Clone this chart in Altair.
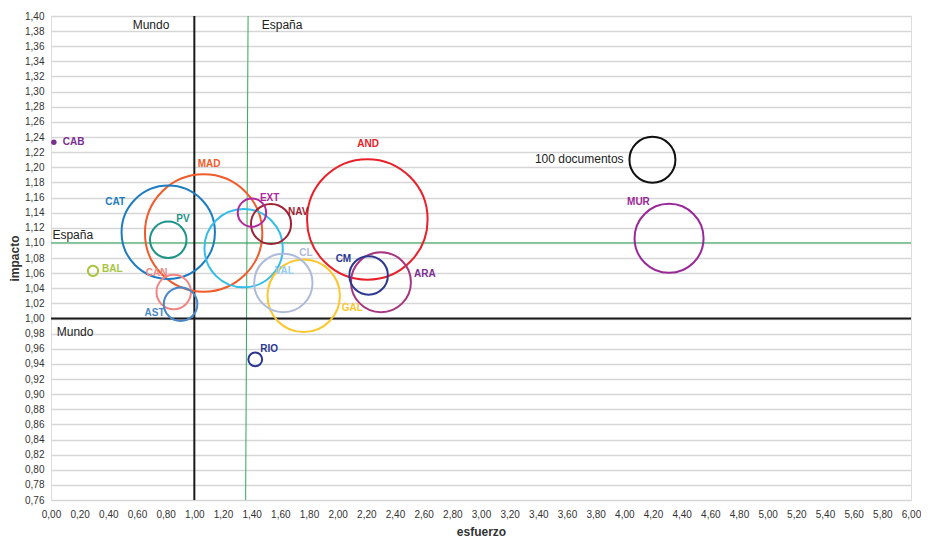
import altair as alt
import pandas as pd

# ---- data ----
regiones = ["AND", "MAD", "CAT", "VAL", "GAL", "ARA", "CL", "MUR", "NAV", "CM",
            "PV", "CAN", "AST", "EXT", "RIO", "BAL", "CAB"]
esfuerzo = [2.207, 1.065, 0.818, 1.344, 1.763, 2.302, 1.621, 4.312, 1.535, 2.216,
            0.818, 0.856, 0.904, 1.402, 1.425, 0.293, 0.020]
impacto = [1.131, 1.113, 1.114, 1.093, 1.030, 1.048, 1.047, 1.106, 1.125, 1.057,
           1.104, 1.035, 1.019, 1.140, 0.946, 1.063, 1.233]
documentos = [687, 651, 412, 290, 248, 170, 161, 225, 76, 70,
              63, 56, 53, 38, 9, 5, 1]

# reference bubble ("100 documentos")
ref_label = "100 documentos"
ref_x = 4.196
ref_y = 1.210
ref_docs = 100

# reference lines
mundo_x, mundo_y = 1.00, 1.00
espana_y = 1.10
espana_x_line = [1.375, 1.358]      # slight slant, top -> bottom
espana_line_y = [1.40, 0.76]

# ---- styles ----
circle_colors = ["#e8202a", "#f15a29", "#1b7cc2", "#33bde8", "#fcc62d", "#a6367f",
                 "#aebadc", "#9a2898", "#9e2233", "#2b3791", "#1d9488", "#f28482",
                 "#4b88c8", "#b1289c", "#2b3791", "#a6c53c", "#7b2e8f"]
label_colors = ["#e8202a", "#f15a29", "#1b7cc2", "#93cdef", "#fcc62d", "#7b2e8f",
                "#aebadc", "#9a2898", "#9e2233", "#2b3791", "#1d9488", "#f28482",
                "#4b88c8", "#b1289c", "#2b3791", "#a6c53c", "#7b2e8f"]
# label offsets from bubble centre, in pixels (left edge of text, middle)
label_dx = [-10, -6, -63, 31, 38, 33, 16, -42, 17, -33, 8, -28, -36, 8, 5, 9, 9]
label_dy = [-75, -69, -30, 23, 12, -8, -30, -36, -12, -16, -21, -19, 9, -15, -10, -2, 0]

W, H = 860, 484
X0, X1 = 0.0, 6.0
Y0, Y1 = 0.76, 1.40
PX_X = W / (X1 - X0)
PX_Y = H / (Y1 - Y0)
FONT = "Liberation Sans"

df = pd.DataFrame({
    "region": regiones,
    "esfuerzo": esfuerzo,
    "impacto": impacto,
    "documentos": documentos,
    "color": circle_colors,
    "lcolor": label_colors,
})
df["lx"] = df["esfuerzo"] + pd.Series(label_dx) / PX_X
df["ly"] = df["impacto"] - pd.Series(label_dy) / PX_Y

ref_df = pd.DataFrame({"region": [ref_label], "esfuerzo": [ref_x], "impacto": [ref_y],
                       "documentos": [ref_docs], "color": ["#111111"]})
bubbles_df = pd.concat([df[["region", "esfuerzo", "impacto", "documentos", "color"]], ref_df])

xscale = alt.Scale(domain=[X0, X1], nice=False, zero=False)
yscale = alt.Scale(domain=[Y0, Y1], nice=False, zero=False)

xticks = [round(i * 0.2, 2) for i in range(31)]
yticks = [round(0.76 + i * 0.02, 2) for i in range(33)]

x_axis = alt.Axis(values=xticks, tickCount=200,
                  labelExpr="replace(format(datum.value, '.2f'), '.', ',')",
                  grid=False, ticks=False, domain=False, labelPadding=9,
                  labelFontSize=10, labelColor="#333333", title="esfuerzo",
                  titleFontSize=12, titleFontWeight="bold", titleColor="#333333",
                  titleY=31, titleBaseline="middle", labelFlush=False, labelOverlap=False)
y_axis = alt.Axis(values=yticks, tickCount=200,
                  labelExpr="replace(format(datum.value, '.2f'), '.', ',')",
                  grid=True, gridColor="#d6d6d6", gridWidth=1.5, ticks=False, domain=False,
                  labelPadding=7, labelFontSize=10, labelColor="#333333", title="impacto",
                  titleFontSize=12, titleFontWeight="bold", titleColor="#333333",
                  titleX=-37, titleBaseline="middle", labelFlush=False, labelOverlap=False)

base_axes = alt.Chart(pd.DataFrame({"x": [0.0], "y": [0.76]})).mark_point(opacity=0).encode(
    x=alt.X("x:Q", scale=xscale, axis=x_axis),
    y=alt.Y("y:Q", scale=yscale, axis=y_axis),
)

lines_df = pd.DataFrame({"x": [mundo_x], "y": [mundo_y]})
mundo_v = alt.Chart(lines_df).mark_rule(color="#1a1a1a", strokeWidth=2).encode(
    x=alt.X("x:Q", scale=xscale))
mundo_h = alt.Chart(lines_df).mark_rule(color="#1a1a1a", strokeWidth=2).encode(
    y=alt.Y("y:Q", scale=yscale))
esp_h = alt.Chart(pd.DataFrame({"y": [espana_y]})).mark_rule(color="#2fa85a", strokeWidth=1).encode(
    y=alt.Y("y:Q", scale=yscale))
esp_v = alt.Chart(pd.DataFrame({"x": espana_x_line, "y": espana_line_y})).mark_line(
    color="#2fa85a", strokeWidth=1).encode(
    x=alt.X("x:Q", scale=xscale), y=alt.Y("y:Q", scale=yscale))

size_enc = alt.Size("documentos:Q", scale=alt.Scale(type="linear", domain=[0, 1000],
                                                     range=[0, 21160]), legend=None)

bubbles = alt.Chart(bubbles_df).mark_circle(filled=False, strokeWidth=2, opacity=1).encode(
    x=alt.X("esfuerzo:Q", scale=xscale),
    y=alt.Y("impacto:Q", scale=yscale),
    size=size_enc,
    stroke=alt.Stroke("color:N", scale=None),
).transform_filter("datum.documentos >= 3")

dots = alt.Chart(bubbles_df).mark_circle(filled=True, opacity=1).encode(
    x=alt.X("esfuerzo:Q", scale=xscale),
    y=alt.Y("impacto:Q", scale=yscale),
    size=alt.value(30),
    fill=alt.Fill("color:N", scale=None),
).transform_filter("datum.documentos < 3")

labels = alt.Chart(df).mark_text(align="left", baseline="middle", fontSize=10,
                                 fontWeight="bold", font=FONT).encode(
    x=alt.X("lx:Q", scale=xscale),
    y=alt.Y("ly:Q", scale=yscale),
    text="region:N",
    color=alt.Color("lcolor:N", scale=None),
)

ann_df = pd.DataFrame({
    "t": ["Mundo", "España", "España", "Mundo", ref_label],
    "x": [0.57, 1.47, 0.01, 0.04, 3.995],
    "y": [1.388, 1.388, 1.111, 0.982, 1.211],
    "a": ["left", "left", "left", "left", "right"],
})
ann_left = alt.Chart(ann_df[ann_df.a == "left"]).mark_text(
    align="left", baseline="middle", fontSize=12, font=FONT, color="#222222").encode(
    x=alt.X("x:Q", scale=xscale), y=alt.Y("y:Q", scale=yscale), text="t:N")
ann_right = alt.Chart(ann_df[ann_df.a == "right"]).mark_text(
    align="right", baseline="middle", fontSize=12, font=FONT, color="#222222").encode(
    x=alt.X("x:Q", scale=xscale), y=alt.Y("y:Q", scale=yscale), text="t:N")

chart = alt.layer(base_axes, esp_h, esp_v, mundo_v, mundo_h, bubbles, dots, labels,
                  ann_left, ann_right).properties(
    width=W, height=H,
    autosize=alt.AutoSizeParams(type="none"),
    padding={"left": 43, "top": 8, "right": 10, "bottom": 37},
).configure_view(stroke="#c8c8c8", strokeWidth=1).configure(
    font=FONT, background="white")

chart.save("out.html", embed_options={"renderer": "svg", "actions": False})
